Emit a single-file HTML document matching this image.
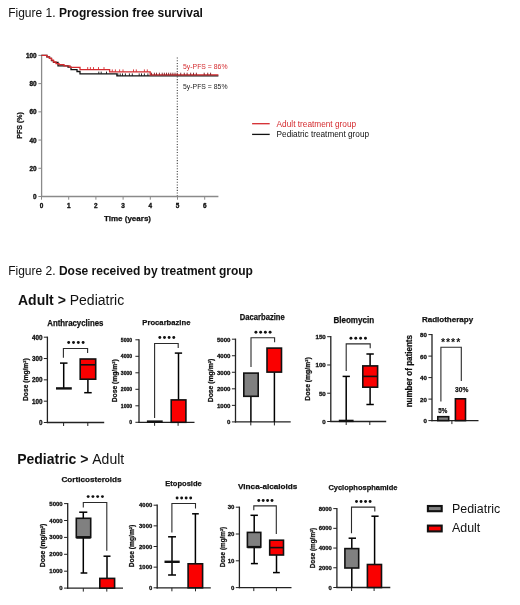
<!DOCTYPE html>
<html><head><meta charset="utf-8"><style>
html,body{margin:0;padding:0;background:#fff;width:520px;height:605px;overflow:hidden;position:relative}
text{font-family:"Liberation Sans", sans-serif}
</style></head><body>
<svg width="520" height="605" viewBox="0 0 520 605" style="position:absolute;left:0;top:0;filter:blur(0.4px)">
<g font-family='"Liberation Sans", sans-serif'>
<text x="8.2" y="17" font-size="12" fill="#111"><tspan>Figure 1. </tspan><tspan font-weight="700">Progression free survival</tspan></text>
<text x="8.2" y="274.5" font-size="12" fill="#111"><tspan>Figure 2. </tspan><tspan font-weight="700">Dose received by treatment group</tspan></text>
<text x="18" y="304.5" font-size="14" fill="#111"><tspan font-weight="700">Adult &gt; </tspan><tspan>Pediatric</tspan></text>
<text x="17.2" y="463.8" font-size="14" fill="#111"><tspan font-weight="700">Pediatric &gt; </tspan><tspan>Adult</tspan></text>
<line x1="41.60" y1="54.80" x2="41.60" y2="197.10" stroke="#8a8a8a" stroke-width="1.3"/>
<line x1="41.00" y1="196.50" x2="218.40" y2="196.50" stroke="#8a8a8a" stroke-width="1.3"/>
<line x1="38.40" y1="196.50" x2="41.60" y2="196.50" stroke="#8a8a8a" stroke-width="1.0"/>
<text x="36.60" y="196.50" font-size="6.4" font-weight="700" text-anchor="end" fill="#111" dominant-baseline="central" stroke="#111" stroke-width="0.35">0</text>
<line x1="38.40" y1="168.28" x2="41.60" y2="168.28" stroke="#8a8a8a" stroke-width="1.0"/>
<text x="36.60" y="168.28" font-size="6.4" font-weight="700" text-anchor="end" fill="#111" dominant-baseline="central" stroke="#111" stroke-width="0.35">20</text>
<line x1="38.40" y1="140.06" x2="41.60" y2="140.06" stroke="#8a8a8a" stroke-width="1.0"/>
<text x="36.60" y="140.06" font-size="6.4" font-weight="700" text-anchor="end" fill="#111" dominant-baseline="central" stroke="#111" stroke-width="0.35">40</text>
<line x1="38.40" y1="111.84" x2="41.60" y2="111.84" stroke="#8a8a8a" stroke-width="1.0"/>
<text x="36.60" y="111.84" font-size="6.4" font-weight="700" text-anchor="end" fill="#111" dominant-baseline="central" stroke="#111" stroke-width="0.35">60</text>
<line x1="38.40" y1="83.62" x2="41.60" y2="83.62" stroke="#8a8a8a" stroke-width="1.0"/>
<text x="36.60" y="83.62" font-size="6.4" font-weight="700" text-anchor="end" fill="#111" dominant-baseline="central" stroke="#111" stroke-width="0.35">80</text>
<line x1="38.40" y1="55.40" x2="41.60" y2="55.40" stroke="#8a8a8a" stroke-width="1.0"/>
<text x="36.60" y="55.40" font-size="6.4" font-weight="700" text-anchor="end" fill="#111" dominant-baseline="central" stroke="#111" stroke-width="0.35">100</text>
<line x1="41.50" y1="196.50" x2="41.50" y2="199.70" stroke="#8a8a8a" stroke-width="1.0"/>
<text x="41.50" y="205.20" font-size="6.4" font-weight="700" text-anchor="middle" fill="#111" dominant-baseline="central" stroke="#111" stroke-width="0.35">0</text>
<line x1="68.70" y1="196.50" x2="68.70" y2="199.70" stroke="#8a8a8a" stroke-width="1.0"/>
<text x="68.70" y="205.20" font-size="6.4" font-weight="700" text-anchor="middle" fill="#111" dominant-baseline="central" stroke="#111" stroke-width="0.35">1</text>
<line x1="95.90" y1="196.50" x2="95.90" y2="199.70" stroke="#8a8a8a" stroke-width="1.0"/>
<text x="95.90" y="205.20" font-size="6.4" font-weight="700" text-anchor="middle" fill="#111" dominant-baseline="central" stroke="#111" stroke-width="0.35">2</text>
<line x1="123.10" y1="196.50" x2="123.10" y2="199.70" stroke="#8a8a8a" stroke-width="1.0"/>
<text x="123.10" y="205.20" font-size="6.4" font-weight="700" text-anchor="middle" fill="#111" dominant-baseline="central" stroke="#111" stroke-width="0.35">3</text>
<line x1="150.30" y1="196.50" x2="150.30" y2="199.70" stroke="#8a8a8a" stroke-width="1.0"/>
<text x="150.30" y="205.20" font-size="6.4" font-weight="700" text-anchor="middle" fill="#111" dominant-baseline="central" stroke="#111" stroke-width="0.35">4</text>
<line x1="177.50" y1="196.50" x2="177.50" y2="199.70" stroke="#8a8a8a" stroke-width="1.0"/>
<text x="177.50" y="205.20" font-size="6.4" font-weight="700" text-anchor="middle" fill="#111" dominant-baseline="central" stroke="#111" stroke-width="0.35">5</text>
<line x1="204.70" y1="196.50" x2="204.70" y2="199.70" stroke="#8a8a8a" stroke-width="1.0"/>
<text x="204.70" y="205.20" font-size="6.4" font-weight="700" text-anchor="middle" fill="#111" dominant-baseline="central" stroke="#111" stroke-width="0.35">6</text>
<text x="127.50" y="218.50" font-size="8" font-weight="700" text-anchor="middle" fill="#111" dominant-baseline="central" stroke="#111" stroke-width="0.25">Time (years)</text>
<text x="19.10" y="125.40" font-size="7" font-weight="700" text-anchor="middle" fill="#111" dominant-baseline="central" transform="rotate(-90 19.10 125.40)" stroke="#111" stroke-width="0.25">PFS (%)</text>
<line x1="177.30" y1="57.50" x2="177.30" y2="196.00" stroke="#444" stroke-width="1.1" stroke-dasharray="1.1,1.6"/>
<polyline points="41.5,55.4 46.9,55.4 46.9,56.8 49.5,56.8 49.5,58.4 51.5,58.4 51.5,60.6 53.5,60.6 53.5,62.4 58.0,62.4 58.0,65.8 68.0,65.8 68.0,67.2 71.0,67.2 71.0,69.7 77.0,69.7 77.0,71.5 80.0,71.5 80.0,73.8 116.9,73.8 116.9,75.8 218.4,75.8" fill="none" stroke="#111" stroke-width="1.3"/>
<line x1="98.80" y1="73.80" x2="98.80" y2="71.60" stroke="#111" stroke-width="0.9"/>
<line x1="101.20" y1="73.80" x2="101.20" y2="71.60" stroke="#111" stroke-width="0.9"/>
<line x1="106.50" y1="73.80" x2="106.50" y2="71.60" stroke="#111" stroke-width="0.9"/>
<line x1="117.90" y1="75.80" x2="117.90" y2="73.40" stroke="#111" stroke-width="0.9"/>
<line x1="120.20" y1="75.80" x2="120.20" y2="73.40" stroke="#111" stroke-width="0.9"/>
<line x1="122.50" y1="75.80" x2="122.50" y2="73.40" stroke="#111" stroke-width="0.9"/>
<line x1="125.40" y1="75.80" x2="125.40" y2="73.40" stroke="#111" stroke-width="0.9"/>
<line x1="129.40" y1="75.80" x2="129.40" y2="73.40" stroke="#111" stroke-width="0.9"/>
<line x1="132.30" y1="75.80" x2="132.30" y2="73.40" stroke="#111" stroke-width="0.9"/>
<line x1="139.20" y1="75.80" x2="139.20" y2="73.40" stroke="#111" stroke-width="0.9"/>
<line x1="141.50" y1="75.80" x2="141.50" y2="73.40" stroke="#111" stroke-width="0.9"/>
<line x1="144.40" y1="75.80" x2="144.40" y2="73.40" stroke="#111" stroke-width="0.9"/>
<line x1="147.90" y1="75.80" x2="147.90" y2="73.40" stroke="#111" stroke-width="0.9"/>
<polyline points="41.5,55.4 46.9,55.4 46.9,56.8 49.5,56.8 49.5,58.4 51.5,58.4 51.5,60.2 53.5,60.2 53.5,62.0 56.0,62.0 56.0,63.6 59.0,63.6 59.0,64.6 64.0,64.6 64.0,65.8 70.0,65.8 70.0,67.3 80.0,67.3 80.0,69.6 109.6,69.6 109.6,71.8 150.2,71.8 150.2,74.9 218.4,74.9" fill="none" stroke="#d42a2e" stroke-width="1.3"/>
<line x1="87.70" y1="69.60" x2="87.70" y2="67.10" stroke="#d42a2e" stroke-width="0.9"/>
<line x1="90.40" y1="69.60" x2="90.40" y2="67.10" stroke="#d42a2e" stroke-width="0.9"/>
<line x1="93.50" y1="69.60" x2="93.50" y2="67.10" stroke="#d42a2e" stroke-width="0.9"/>
<line x1="98.50" y1="69.60" x2="98.50" y2="67.10" stroke="#d42a2e" stroke-width="0.9"/>
<line x1="104.00" y1="69.60" x2="104.00" y2="67.10" stroke="#d42a2e" stroke-width="0.9"/>
<line x1="112.30" y1="71.80" x2="112.30" y2="69.40" stroke="#d42a2e" stroke-width="0.9"/>
<line x1="115.40" y1="71.80" x2="115.40" y2="69.40" stroke="#d42a2e" stroke-width="0.9"/>
<line x1="119.60" y1="71.80" x2="119.60" y2="69.40" stroke="#d42a2e" stroke-width="0.9"/>
<line x1="123.00" y1="71.80" x2="123.00" y2="69.40" stroke="#d42a2e" stroke-width="0.9"/>
<line x1="133.50" y1="71.80" x2="133.50" y2="69.40" stroke="#d42a2e" stroke-width="0.9"/>
<line x1="136.30" y1="71.80" x2="136.30" y2="69.40" stroke="#d42a2e" stroke-width="0.9"/>
<line x1="144.40" y1="71.80" x2="144.40" y2="69.40" stroke="#d42a2e" stroke-width="0.9"/>
<line x1="147.30" y1="71.80" x2="147.30" y2="69.40" stroke="#d42a2e" stroke-width="0.9"/>
<line x1="151.56" y1="74.90" x2="151.56" y2="72.70" stroke="#7a1518" stroke-width="0.9"/>
<line x1="154.40" y1="74.90" x2="154.40" y2="72.70" stroke="#7a1518" stroke-width="0.9"/>
<line x1="156.53" y1="74.90" x2="156.53" y2="72.70" stroke="#7a1518" stroke-width="0.9"/>
<line x1="159.38" y1="74.90" x2="159.38" y2="72.70" stroke="#7a1518" stroke-width="0.9"/>
<line x1="162.22" y1="74.90" x2="162.22" y2="72.70" stroke="#7a1518" stroke-width="0.9"/>
<line x1="164.36" y1="74.90" x2="164.36" y2="72.70" stroke="#7a1518" stroke-width="0.9"/>
<line x1="166.49" y1="74.90" x2="166.49" y2="72.70" stroke="#7a1518" stroke-width="0.9"/>
<line x1="168.63" y1="74.90" x2="168.63" y2="72.70" stroke="#7a1518" stroke-width="0.9"/>
<line x1="170.76" y1="74.90" x2="170.76" y2="72.70" stroke="#7a1518" stroke-width="0.9"/>
<line x1="172.89" y1="74.90" x2="172.89" y2="72.70" stroke="#7a1518" stroke-width="0.9"/>
<line x1="175.03" y1="74.90" x2="175.03" y2="72.70" stroke="#7a1518" stroke-width="0.9"/>
<line x1="177.16" y1="74.90" x2="177.16" y2="72.70" stroke="#7a1518" stroke-width="0.9"/>
<line x1="180.72" y1="74.90" x2="180.72" y2="72.70" stroke="#7a1518" stroke-width="0.9"/>
<line x1="184.27" y1="74.90" x2="184.27" y2="72.70" stroke="#7a1518" stroke-width="0.9"/>
<line x1="187.12" y1="74.90" x2="187.12" y2="72.70" stroke="#7a1518" stroke-width="0.9"/>
<line x1="190.67" y1="74.90" x2="190.67" y2="72.70" stroke="#7a1518" stroke-width="0.9"/>
<line x1="193.52" y1="74.90" x2="193.52" y2="72.70" stroke="#7a1518" stroke-width="0.9"/>
<line x1="196.36" y1="74.90" x2="196.36" y2="72.70" stroke="#7a1518" stroke-width="0.9"/>
<line x1="204.19" y1="74.90" x2="204.19" y2="72.70" stroke="#7a1518" stroke-width="0.9"/>
<line x1="207.74" y1="74.90" x2="207.74" y2="72.70" stroke="#7a1518" stroke-width="0.9"/>
<line x1="210.59" y1="74.90" x2="210.59" y2="72.70" stroke="#7a1518" stroke-width="0.9"/>
<text x="183.00" y="66.70" font-size="7" font-weight="400" text-anchor="start" fill="#d42a2e" dominant-baseline="central" textLength="44.50" lengthAdjust="spacingAndGlyphs">5y-PFS = 86%</text>
<text x="183.00" y="86.50" font-size="7" font-weight="400" text-anchor="start" fill="#222" dominant-baseline="central" textLength="44.50" lengthAdjust="spacingAndGlyphs">5y-PFS = 85%</text>
<line x1="252.10" y1="123.70" x2="269.70" y2="123.70" stroke="#d42a2e" stroke-width="1.3"/>
<line x1="252.10" y1="134.40" x2="269.70" y2="134.40" stroke="#111" stroke-width="1.3"/>
<text x="276.60" y="123.70" font-size="8.3" font-weight="400" text-anchor="start" fill="#d42a2e" dominant-baseline="central" textLength="79.50" lengthAdjust="spacingAndGlyphs">Adult treatment group</text>
<text x="276.60" y="134.40" font-size="8.3" font-weight="400" text-anchor="start" fill="#111" dominant-baseline="central" textLength="92.50" lengthAdjust="spacingAndGlyphs">Pediatric treatment group</text>
<text x="75.35" y="322.60" font-size="8.7" font-weight="700" text-anchor="middle" fill="#111" dominant-baseline="central" textLength="56.20" lengthAdjust="spacingAndGlyphs" stroke="#111" stroke-width="0.25">Anthracyclines</text>
<text x="25.70" y="379.60" font-size="7" font-weight="700" text-anchor="middle" fill="#111" dominant-baseline="central" transform="rotate(-90 25.70 379.60)" textLength="42.80" lengthAdjust="spacingAndGlyphs" stroke="#111" stroke-width="0.25">Dose (mg/m²)</text>
<line x1="47.40" y1="336.60" x2="47.40" y2="423.10" stroke="#222" stroke-width="1.3"/>
<line x1="43.80" y1="422.50" x2="47.40" y2="422.50" stroke="#222" stroke-width="1.0"/>
<text x="42.40" y="422.50" font-size="6.3" font-weight="700" text-anchor="end" fill="#111" dominant-baseline="central" stroke="#111" stroke-width="0.3">0</text>
<line x1="43.80" y1="401.18" x2="47.40" y2="401.18" stroke="#222" stroke-width="1.0"/>
<text x="42.40" y="401.18" font-size="6.3" font-weight="700" text-anchor="end" fill="#111" dominant-baseline="central" stroke="#111" stroke-width="0.3">100</text>
<line x1="43.80" y1="379.85" x2="47.40" y2="379.85" stroke="#222" stroke-width="1.0"/>
<text x="42.40" y="379.85" font-size="6.3" font-weight="700" text-anchor="end" fill="#111" dominant-baseline="central" stroke="#111" stroke-width="0.3">200</text>
<line x1="43.80" y1="358.52" x2="47.40" y2="358.52" stroke="#222" stroke-width="1.0"/>
<text x="42.40" y="358.52" font-size="6.3" font-weight="700" text-anchor="end" fill="#111" dominant-baseline="central" stroke="#111" stroke-width="0.3">300</text>
<line x1="43.80" y1="337.20" x2="47.40" y2="337.20" stroke="#222" stroke-width="1.0"/>
<text x="42.40" y="337.20" font-size="6.3" font-weight="700" text-anchor="end" fill="#111" dominant-baseline="central" stroke="#111" stroke-width="0.3">400</text>
<line x1="46.80" y1="422.50" x2="104.20" y2="422.50" stroke="#222" stroke-width="1.3"/>
<line x1="63.60" y1="422.50" x2="63.60" y2="426.00" stroke="#222" stroke-width="1.0"/>
<line x1="87.80" y1="422.50" x2="87.80" y2="426.00" stroke="#222" stroke-width="1.0"/>
<line x1="63.70" y1="388.40" x2="63.70" y2="363.10" stroke="#000" stroke-width="1.5"/>
<line x1="60.00" y1="363.10" x2="67.50" y2="363.10" stroke="#000" stroke-width="1.5"/>
<line x1="56.00" y1="388.40" x2="71.80" y2="388.40" stroke="#111" stroke-width="2.4"/>
<line x1="87.90" y1="379.20" x2="87.90" y2="392.70" stroke="#000" stroke-width="1.5"/>
<line x1="84.20" y1="392.70" x2="91.70" y2="392.70" stroke="#000" stroke-width="1.5"/>
<rect x="80.20" y="359.00" width="15.50" height="20.20" fill="#fa0000" stroke="#111" stroke-width="1.6"/>
<line x1="80.20" y1="364.80" x2="95.70" y2="364.80" stroke="#111" stroke-width="1.6"/>
<polyline points="63.4,357.7 63.4,348.5 87.6,348.5 87.6,353.1" fill="none" stroke="#2a2a2a" stroke-width="1.1"/>
<circle cx="68.69" cy="342.45" r="1.45" fill="#111"/>
<circle cx="73.50" cy="342.45" r="1.45" fill="#111"/>
<circle cx="78.31" cy="342.45" r="1.45" fill="#111"/>
<circle cx="83.12" cy="342.45" r="1.45" fill="#111"/>
<text x="166.40" y="322.40" font-size="8" font-weight="700" text-anchor="middle" fill="#111" dominant-baseline="central" textLength="48.10" lengthAdjust="spacingAndGlyphs" stroke="#111" stroke-width="0.25">Procarbazine</text>
<text x="114.10" y="380.80" font-size="7" font-weight="700" text-anchor="middle" fill="#111" dominant-baseline="central" transform="rotate(-90 114.10 380.80)" textLength="43.00" lengthAdjust="spacingAndGlyphs" stroke="#111" stroke-width="0.25">Dose (mg/m²)</text>
<line x1="139.00" y1="339.20" x2="139.00" y2="422.90" stroke="#222" stroke-width="1.3"/>
<line x1="135.40" y1="422.30" x2="139.00" y2="422.30" stroke="#222" stroke-width="1.0"/>
<text x="132.20" y="422.30" font-size="5.1" font-weight="700" text-anchor="end" fill="#111" dominant-baseline="central" stroke="#111" stroke-width="0.3">0</text>
<line x1="135.40" y1="405.80" x2="139.00" y2="405.80" stroke="#222" stroke-width="1.0"/>
<text x="132.20" y="405.80" font-size="5.1" font-weight="700" text-anchor="end" fill="#111" dominant-baseline="central" stroke="#111" stroke-width="0.3">1000</text>
<line x1="135.40" y1="389.30" x2="139.00" y2="389.30" stroke="#222" stroke-width="1.0"/>
<text x="132.20" y="389.30" font-size="5.1" font-weight="700" text-anchor="end" fill="#111" dominant-baseline="central" stroke="#111" stroke-width="0.3">2000</text>
<line x1="135.40" y1="372.80" x2="139.00" y2="372.80" stroke="#222" stroke-width="1.0"/>
<text x="132.20" y="372.80" font-size="5.1" font-weight="700" text-anchor="end" fill="#111" dominant-baseline="central" stroke="#111" stroke-width="0.3">3000</text>
<line x1="135.40" y1="356.30" x2="139.00" y2="356.30" stroke="#222" stroke-width="1.0"/>
<text x="132.20" y="356.30" font-size="5.1" font-weight="700" text-anchor="end" fill="#111" dominant-baseline="central" stroke="#111" stroke-width="0.3">4000</text>
<line x1="135.40" y1="339.80" x2="139.00" y2="339.80" stroke="#222" stroke-width="1.0"/>
<text x="132.20" y="339.80" font-size="5.1" font-weight="700" text-anchor="end" fill="#111" dominant-baseline="central" stroke="#111" stroke-width="0.3">5000</text>
<line x1="138.40" y1="422.30" x2="194.50" y2="422.30" stroke="#222" stroke-width="1.3"/>
<line x1="154.60" y1="422.30" x2="154.60" y2="425.80" stroke="#222" stroke-width="1.0"/>
<line x1="178.10" y1="422.30" x2="178.10" y2="425.80" stroke="#222" stroke-width="1.0"/>
<line x1="146.90" y1="421.60" x2="162.70" y2="421.60" stroke="#111" stroke-width="2.4"/>
<line x1="178.50" y1="399.90" x2="178.50" y2="353.10" stroke="#000" stroke-width="1.5"/>
<line x1="174.80" y1="353.10" x2="182.10" y2="353.10" stroke="#000" stroke-width="1.5"/>
<rect x="171.20" y="399.90" width="14.70" height="22.40" fill="#fa0000" stroke="#111" stroke-width="1.6"/>
<polyline points="154.6,417.9 154.6,343.5 178.2,343.5 178.2,347.9" fill="none" stroke="#2a2a2a" stroke-width="1.1"/>
<circle cx="159.83" cy="337.45" r="1.45" fill="#111"/>
<circle cx="164.48" cy="337.45" r="1.45" fill="#111"/>
<circle cx="169.12" cy="337.45" r="1.45" fill="#111"/>
<circle cx="173.78" cy="337.45" r="1.45" fill="#111"/>
<text x="262.30" y="317.20" font-size="8.2" font-weight="700" text-anchor="middle" fill="#111" dominant-baseline="central" textLength="44.90" lengthAdjust="spacingAndGlyphs" stroke="#111" stroke-width="0.25">Dacarbazine</text>
<text x="210.20" y="380.50" font-size="7" font-weight="700" text-anchor="middle" fill="#111" dominant-baseline="central" transform="rotate(-90 210.20 380.50)" textLength="43.50" lengthAdjust="spacingAndGlyphs" stroke="#111" stroke-width="0.25">Dose (mg/m²)</text>
<line x1="235.50" y1="338.60" x2="235.50" y2="422.50" stroke="#222" stroke-width="1.3"/>
<line x1="231.90" y1="421.90" x2="235.50" y2="421.90" stroke="#222" stroke-width="1.0"/>
<text x="230.50" y="421.90" font-size="6.1" font-weight="700" text-anchor="end" fill="#111" dominant-baseline="central" stroke="#111" stroke-width="0.3">0</text>
<line x1="231.90" y1="405.36" x2="235.50" y2="405.36" stroke="#222" stroke-width="1.0"/>
<text x="230.50" y="405.36" font-size="6.1" font-weight="700" text-anchor="end" fill="#111" dominant-baseline="central" stroke="#111" stroke-width="0.3">1000</text>
<line x1="231.90" y1="388.82" x2="235.50" y2="388.82" stroke="#222" stroke-width="1.0"/>
<text x="230.50" y="388.82" font-size="6.1" font-weight="700" text-anchor="end" fill="#111" dominant-baseline="central" stroke="#111" stroke-width="0.3">2000</text>
<line x1="231.90" y1="372.28" x2="235.50" y2="372.28" stroke="#222" stroke-width="1.0"/>
<text x="230.50" y="372.28" font-size="6.1" font-weight="700" text-anchor="end" fill="#111" dominant-baseline="central" stroke="#111" stroke-width="0.3">3000</text>
<line x1="231.90" y1="355.74" x2="235.50" y2="355.74" stroke="#222" stroke-width="1.0"/>
<text x="230.50" y="355.74" font-size="6.1" font-weight="700" text-anchor="end" fill="#111" dominant-baseline="central" stroke="#111" stroke-width="0.3">4000</text>
<line x1="231.90" y1="339.20" x2="235.50" y2="339.20" stroke="#222" stroke-width="1.0"/>
<text x="230.50" y="339.20" font-size="6.1" font-weight="700" text-anchor="end" fill="#111" dominant-baseline="central" stroke="#111" stroke-width="0.3">5000</text>
<line x1="234.90" y1="421.90" x2="290.70" y2="421.90" stroke="#222" stroke-width="1.3"/>
<line x1="250.80" y1="421.90" x2="250.80" y2="425.40" stroke="#222" stroke-width="1.0"/>
<line x1="274.40" y1="421.90" x2="274.40" y2="425.40" stroke="#222" stroke-width="1.0"/>
<line x1="250.90" y1="396.30" x2="250.90" y2="421.90" stroke="#000" stroke-width="1.5"/>
<rect x="243.80" y="373.10" width="14.40" height="23.20" fill="#808080" stroke="#111" stroke-width="1.6"/>
<line x1="274.40" y1="372.10" x2="274.40" y2="421.90" stroke="#000" stroke-width="1.5"/>
<rect x="267.00" y="348.10" width="14.50" height="24.00" fill="#fa0000" stroke="#111" stroke-width="1.6"/>
<polyline points="251,367 251,337.7 274.6,337.7 274.6,342.3" fill="none" stroke="#2a2a2a" stroke-width="1.1"/>
<circle cx="255.91" cy="332.20" r="1.45" fill="#111"/>
<circle cx="260.63" cy="332.20" r="1.45" fill="#111"/>
<circle cx="265.37" cy="332.20" r="1.45" fill="#111"/>
<circle cx="270.10" cy="332.20" r="1.45" fill="#111"/>
<text x="353.80" y="320.00" font-size="8.5" font-weight="700" text-anchor="middle" fill="#111" dominant-baseline="central" textLength="40.80" lengthAdjust="spacingAndGlyphs" stroke="#111" stroke-width="0.25">Bleomycin</text>
<text x="307.70" y="379.00" font-size="7" font-weight="700" text-anchor="middle" fill="#111" dominant-baseline="central" transform="rotate(-90 307.70 379.00)" textLength="43.40" lengthAdjust="spacingAndGlyphs" stroke="#111" stroke-width="0.25">Dose (mg/m²)</text>
<line x1="330.80" y1="336.10" x2="330.80" y2="422.10" stroke="#222" stroke-width="1.3"/>
<line x1="327.20" y1="421.50" x2="330.80" y2="421.50" stroke="#222" stroke-width="1.0"/>
<text x="325.80" y="421.50" font-size="6.2" font-weight="700" text-anchor="end" fill="#111" dominant-baseline="central" stroke="#111" stroke-width="0.3">0</text>
<line x1="327.20" y1="393.23" x2="330.80" y2="393.23" stroke="#222" stroke-width="1.0"/>
<text x="325.80" y="393.23" font-size="6.2" font-weight="700" text-anchor="end" fill="#111" dominant-baseline="central" stroke="#111" stroke-width="0.3">50</text>
<line x1="327.20" y1="364.97" x2="330.80" y2="364.97" stroke="#222" stroke-width="1.0"/>
<text x="325.80" y="364.97" font-size="6.2" font-weight="700" text-anchor="end" fill="#111" dominant-baseline="central" stroke="#111" stroke-width="0.3">100</text>
<line x1="327.20" y1="336.70" x2="330.80" y2="336.70" stroke="#222" stroke-width="1.0"/>
<text x="325.80" y="336.70" font-size="6.2" font-weight="700" text-anchor="end" fill="#111" dominant-baseline="central" stroke="#111" stroke-width="0.3">150</text>
<line x1="330.20" y1="421.50" x2="386.20" y2="421.50" stroke="#222" stroke-width="1.3"/>
<line x1="346.20" y1="421.50" x2="346.20" y2="425.00" stroke="#222" stroke-width="1.0"/>
<line x1="369.80" y1="421.50" x2="369.80" y2="425.00" stroke="#222" stroke-width="1.0"/>
<line x1="346.20" y1="420.90" x2="346.20" y2="376.40" stroke="#000" stroke-width="1.5"/>
<line x1="342.60" y1="376.40" x2="349.90" y2="376.40" stroke="#000" stroke-width="1.5"/>
<line x1="338.80" y1="420.90" x2="353.60" y2="420.90" stroke="#111" stroke-width="2.4"/>
<line x1="370.10" y1="387.20" x2="370.10" y2="404.50" stroke="#000" stroke-width="1.5"/>
<line x1="366.40" y1="404.50" x2="373.80" y2="404.50" stroke="#000" stroke-width="1.5"/>
<line x1="370.10" y1="365.90" x2="370.10" y2="354.00" stroke="#000" stroke-width="1.5"/>
<line x1="366.40" y1="354.00" x2="373.80" y2="354.00" stroke="#000" stroke-width="1.5"/>
<rect x="362.80" y="365.90" width="14.80" height="21.30" fill="#fa0000" stroke="#111" stroke-width="1.6"/>
<line x1="362.80" y1="376.40" x2="377.60" y2="376.40" stroke="#111" stroke-width="1.6"/>
<polyline points="346.2,371 346.2,343.9 370.2,343.9 370.2,348.2" fill="none" stroke="#2a2a2a" stroke-width="1.1"/>
<circle cx="350.94" cy="338.20" r="1.45" fill="#111"/>
<circle cx="355.78" cy="338.20" r="1.45" fill="#111"/>
<circle cx="360.62" cy="338.20" r="1.45" fill="#111"/>
<circle cx="365.46" cy="338.20" r="1.45" fill="#111"/>
<text x="447.50" y="319.10" font-size="8" font-weight="700" text-anchor="middle" fill="#111" dominant-baseline="central" textLength="51.20" lengthAdjust="spacingAndGlyphs" stroke="#111" stroke-width="0.25">Radiotherapy</text>
<text x="409.40" y="371.20" font-size="8.5" font-weight="700" text-anchor="middle" fill="#111" dominant-baseline="central" transform="rotate(-90 409.40 371.20)" textLength="72.30" lengthAdjust="spacingAndGlyphs" stroke="#111" stroke-width="0.25">number of patients</text>
<line x1="432.00" y1="334.00" x2="432.00" y2="421.20" stroke="#222" stroke-width="1.3"/>
<line x1="428.40" y1="420.60" x2="432.00" y2="420.60" stroke="#222" stroke-width="1.0"/>
<text x="427.00" y="420.60" font-size="6.2" font-weight="700" text-anchor="end" fill="#111" dominant-baseline="central" stroke="#111" stroke-width="0.3">0</text>
<line x1="428.40" y1="399.10" x2="432.00" y2="399.10" stroke="#222" stroke-width="1.0"/>
<text x="427.00" y="399.10" font-size="6.2" font-weight="700" text-anchor="end" fill="#111" dominant-baseline="central" stroke="#111" stroke-width="0.3">20</text>
<line x1="428.40" y1="377.60" x2="432.00" y2="377.60" stroke="#222" stroke-width="1.0"/>
<text x="427.00" y="377.60" font-size="6.2" font-weight="700" text-anchor="end" fill="#111" dominant-baseline="central" stroke="#111" stroke-width="0.3">40</text>
<line x1="428.40" y1="356.10" x2="432.00" y2="356.10" stroke="#222" stroke-width="1.0"/>
<text x="427.00" y="356.10" font-size="6.2" font-weight="700" text-anchor="end" fill="#111" dominant-baseline="central" stroke="#111" stroke-width="0.3">60</text>
<line x1="428.40" y1="334.60" x2="432.00" y2="334.60" stroke="#222" stroke-width="1.0"/>
<text x="427.00" y="334.60" font-size="6.2" font-weight="700" text-anchor="end" fill="#111" dominant-baseline="central" stroke="#111" stroke-width="0.3">80</text>
<line x1="431.40" y1="420.60" x2="478.50" y2="420.60" stroke="#222" stroke-width="1.3"/>
<line x1="451.90" y1="420.60" x2="451.90" y2="424.10" stroke="#222" stroke-width="1.0"/>
<rect x="437.80" y="416.70" width="10.90" height="3.90" fill="#808080" stroke="#111" stroke-width="1.6"/>
<rect x="455.40" y="398.80" width="10.10" height="21.80" fill="#fa0000" stroke="#111" stroke-width="1.6"/>
<polyline points="440.9,401.5 440.9,347.2 461.3,347.2 461.3,380.9" fill="none" stroke="#2a2a2a" stroke-width="1.1"/>
<text x="442.95" y="346.20" font-size="10.5" font-weight="700" text-anchor="middle" fill="#111">*</text>
<text x="448.05" y="346.20" font-size="10.5" font-weight="700" text-anchor="middle" fill="#111">*</text>
<text x="453.15" y="346.20" font-size="10.5" font-weight="700" text-anchor="middle" fill="#111">*</text>
<text x="458.25" y="346.20" font-size="10.5" font-weight="700" text-anchor="middle" fill="#111">*</text>
<text x="91.50" y="479.80" font-size="8" font-weight="700" text-anchor="middle" fill="#111" dominant-baseline="central" textLength="60.00" lengthAdjust="spacingAndGlyphs" stroke="#111" stroke-width="0.25">Corticosteroids</text>
<text x="42.10" y="545.50" font-size="7" font-weight="700" text-anchor="middle" fill="#111" dominant-baseline="central" transform="rotate(-90 42.10 545.50)" textLength="43.50" lengthAdjust="spacingAndGlyphs" stroke="#111" stroke-width="0.25">Dose (mg/m²)</text>
<line x1="67.70" y1="503.00" x2="67.70" y2="588.70" stroke="#222" stroke-width="1.3"/>
<line x1="64.10" y1="588.10" x2="67.70" y2="588.10" stroke="#222" stroke-width="1.0"/>
<text x="62.70" y="588.10" font-size="6.0" font-weight="700" text-anchor="end" fill="#111" dominant-baseline="central" stroke="#111" stroke-width="0.3">0</text>
<line x1="64.10" y1="571.20" x2="67.70" y2="571.20" stroke="#222" stroke-width="1.0"/>
<text x="62.70" y="571.20" font-size="6.0" font-weight="700" text-anchor="end" fill="#111" dominant-baseline="central" stroke="#111" stroke-width="0.3">1000</text>
<line x1="64.10" y1="554.30" x2="67.70" y2="554.30" stroke="#222" stroke-width="1.0"/>
<text x="62.70" y="554.30" font-size="6.0" font-weight="700" text-anchor="end" fill="#111" dominant-baseline="central" stroke="#111" stroke-width="0.3">2000</text>
<line x1="64.10" y1="537.40" x2="67.70" y2="537.40" stroke="#222" stroke-width="1.0"/>
<text x="62.70" y="537.40" font-size="6.0" font-weight="700" text-anchor="end" fill="#111" dominant-baseline="central" stroke="#111" stroke-width="0.3">3000</text>
<line x1="64.10" y1="520.50" x2="67.70" y2="520.50" stroke="#222" stroke-width="1.0"/>
<text x="62.70" y="520.50" font-size="6.0" font-weight="700" text-anchor="end" fill="#111" dominant-baseline="central" stroke="#111" stroke-width="0.3">4000</text>
<line x1="64.10" y1="503.60" x2="67.70" y2="503.60" stroke="#222" stroke-width="1.0"/>
<text x="62.70" y="503.60" font-size="6.0" font-weight="700" text-anchor="end" fill="#111" dominant-baseline="central" stroke="#111" stroke-width="0.3">5000</text>
<line x1="67.10" y1="588.10" x2="123.00" y2="588.10" stroke="#222" stroke-width="1.3"/>
<line x1="83.30" y1="588.10" x2="83.30" y2="591.60" stroke="#222" stroke-width="1.0"/>
<line x1="106.80" y1="588.10" x2="106.80" y2="591.60" stroke="#222" stroke-width="1.0"/>
<line x1="83.30" y1="537.40" x2="83.30" y2="573.00" stroke="#000" stroke-width="1.5"/>
<line x1="80.60" y1="573.00" x2="87.30" y2="573.00" stroke="#000" stroke-width="1.5"/>
<line x1="83.30" y1="518.30" x2="83.30" y2="512.20" stroke="#000" stroke-width="1.5"/>
<line x1="79.20" y1="512.20" x2="87.30" y2="512.20" stroke="#000" stroke-width="1.5"/>
<rect x="76.30" y="518.30" width="14.40" height="19.10" fill="#808080" stroke="#111" stroke-width="1.6"/>
<line x1="76.30" y1="537.40" x2="90.70" y2="537.40" stroke="#111" stroke-width="2.6"/>
<line x1="107.00" y1="578.40" x2="107.00" y2="556.20" stroke="#000" stroke-width="1.5"/>
<line x1="103.50" y1="556.20" x2="110.50" y2="556.20" stroke="#000" stroke-width="1.5"/>
<rect x="99.80" y="578.40" width="14.80" height="9.70" fill="#fa0000" stroke="#111" stroke-width="1.6"/>
<polyline points="83.3,507.5 83.3,502.5 106.8,502.5 106.8,550.7" fill="none" stroke="#2a2a2a" stroke-width="1.1"/>
<circle cx="88.16" cy="496.60" r="1.45" fill="#111"/>
<circle cx="92.92" cy="496.60" r="1.45" fill="#111"/>
<circle cx="97.68" cy="496.60" r="1.45" fill="#111"/>
<circle cx="102.44" cy="496.60" r="1.45" fill="#111"/>
<text x="183.50" y="483.10" font-size="8" font-weight="700" text-anchor="middle" fill="#111" dominant-baseline="central" textLength="36.40" lengthAdjust="spacingAndGlyphs" stroke="#111" stroke-width="0.25">Etoposide</text>
<text x="131.70" y="546.00" font-size="7" font-weight="700" text-anchor="middle" fill="#111" dominant-baseline="central" transform="rotate(-90 131.70 546.00)" textLength="42.50" lengthAdjust="spacingAndGlyphs" stroke="#111" stroke-width="0.25">Dose (mg/m²)</text>
<line x1="157.20" y1="504.60" x2="157.20" y2="588.40" stroke="#222" stroke-width="1.3"/>
<line x1="153.60" y1="587.80" x2="157.20" y2="587.80" stroke="#222" stroke-width="1.0"/>
<text x="152.20" y="587.80" font-size="5.9" font-weight="700" text-anchor="end" fill="#111" dominant-baseline="central" stroke="#111" stroke-width="0.3">0</text>
<line x1="153.60" y1="567.15" x2="157.20" y2="567.15" stroke="#222" stroke-width="1.0"/>
<text x="152.20" y="567.15" font-size="5.9" font-weight="700" text-anchor="end" fill="#111" dominant-baseline="central" stroke="#111" stroke-width="0.3">1000</text>
<line x1="153.60" y1="546.50" x2="157.20" y2="546.50" stroke="#222" stroke-width="1.0"/>
<text x="152.20" y="546.50" font-size="5.9" font-weight="700" text-anchor="end" fill="#111" dominant-baseline="central" stroke="#111" stroke-width="0.3">2000</text>
<line x1="153.60" y1="525.85" x2="157.20" y2="525.85" stroke="#222" stroke-width="1.0"/>
<text x="152.20" y="525.85" font-size="5.9" font-weight="700" text-anchor="end" fill="#111" dominant-baseline="central" stroke="#111" stroke-width="0.3">3000</text>
<line x1="153.60" y1="505.20" x2="157.20" y2="505.20" stroke="#222" stroke-width="1.0"/>
<text x="152.20" y="505.20" font-size="5.9" font-weight="700" text-anchor="end" fill="#111" dominant-baseline="central" stroke="#111" stroke-width="0.3">4000</text>
<line x1="156.60" y1="587.80" x2="210.80" y2="587.80" stroke="#222" stroke-width="1.3"/>
<line x1="171.90" y1="587.80" x2="171.90" y2="591.30" stroke="#222" stroke-width="1.0"/>
<line x1="195.50" y1="587.80" x2="195.50" y2="591.30" stroke="#222" stroke-width="1.0"/>
<line x1="172.00" y1="561.80" x2="172.00" y2="575.00" stroke="#000" stroke-width="1.5"/>
<line x1="168.10" y1="575.00" x2="176.00" y2="575.00" stroke="#000" stroke-width="1.5"/>
<line x1="172.00" y1="561.80" x2="172.00" y2="536.80" stroke="#000" stroke-width="1.5"/>
<line x1="168.10" y1="536.80" x2="176.00" y2="536.80" stroke="#000" stroke-width="1.5"/>
<line x1="164.50" y1="561.80" x2="179.70" y2="561.80" stroke="#111" stroke-width="2.4"/>
<line x1="195.40" y1="563.80" x2="195.40" y2="513.80" stroke="#000" stroke-width="1.5"/>
<line x1="192.10" y1="513.80" x2="198.80" y2="513.80" stroke="#000" stroke-width="1.5"/>
<rect x="188.10" y="563.80" width="14.50" height="24.00" fill="#fa0000" stroke="#111" stroke-width="1.6"/>
<polyline points="171.9,532.4 171.9,503.5 195.5,503.5 195.5,508.6" fill="none" stroke="#2a2a2a" stroke-width="1.1"/>
<circle cx="177.11" cy="498.00" r="1.45" fill="#111"/>
<circle cx="181.64" cy="498.00" r="1.45" fill="#111"/>
<circle cx="186.16" cy="498.00" r="1.45" fill="#111"/>
<circle cx="190.69" cy="498.00" r="1.45" fill="#111"/>
<text x="267.70" y="486.20" font-size="8" font-weight="700" text-anchor="middle" fill="#111" dominant-baseline="central" textLength="59.30" lengthAdjust="spacingAndGlyphs" stroke="#111" stroke-width="0.25">Vinca-alcaloids</text>
<text x="222.10" y="547.10" font-size="7" font-weight="700" text-anchor="middle" fill="#111" dominant-baseline="central" transform="rotate(-90 222.10 547.10)" textLength="40.50" lengthAdjust="spacingAndGlyphs" stroke="#111" stroke-width="0.25">Dose (mg/m²)</text>
<line x1="239.40" y1="506.60" x2="239.40" y2="588.20" stroke="#222" stroke-width="1.3"/>
<line x1="235.80" y1="587.60" x2="239.40" y2="587.60" stroke="#222" stroke-width="1.0"/>
<text x="234.40" y="587.60" font-size="6.0" font-weight="700" text-anchor="end" fill="#111" dominant-baseline="central" stroke="#111" stroke-width="0.3">0</text>
<line x1="235.80" y1="560.80" x2="239.40" y2="560.80" stroke="#222" stroke-width="1.0"/>
<text x="234.40" y="560.80" font-size="6.0" font-weight="700" text-anchor="end" fill="#111" dominant-baseline="central" stroke="#111" stroke-width="0.3">10</text>
<line x1="235.80" y1="534.00" x2="239.40" y2="534.00" stroke="#222" stroke-width="1.0"/>
<text x="234.40" y="534.00" font-size="6.0" font-weight="700" text-anchor="end" fill="#111" dominant-baseline="central" stroke="#111" stroke-width="0.3">20</text>
<line x1="235.80" y1="507.20" x2="239.40" y2="507.20" stroke="#222" stroke-width="1.0"/>
<text x="234.40" y="507.20" font-size="6.0" font-weight="700" text-anchor="end" fill="#111" dominant-baseline="central" stroke="#111" stroke-width="0.3">30</text>
<line x1="238.80" y1="587.60" x2="291.50" y2="587.60" stroke="#222" stroke-width="1.3"/>
<line x1="253.80" y1="587.60" x2="253.80" y2="591.10" stroke="#222" stroke-width="1.0"/>
<line x1="276.40" y1="587.60" x2="276.40" y2="591.10" stroke="#222" stroke-width="1.0"/>
<line x1="254.20" y1="547.10" x2="254.20" y2="563.60" stroke="#000" stroke-width="1.5"/>
<line x1="250.90" y1="563.60" x2="257.90" y2="563.60" stroke="#000" stroke-width="1.5"/>
<line x1="254.20" y1="532.40" x2="254.20" y2="515.30" stroke="#000" stroke-width="1.5"/>
<line x1="250.50" y1="515.30" x2="257.90" y2="515.30" stroke="#000" stroke-width="1.5"/>
<rect x="247.40" y="532.40" width="13.40" height="14.70" fill="#808080" stroke="#111" stroke-width="1.6"/>
<line x1="247.40" y1="547.10" x2="260.80" y2="547.10" stroke="#111" stroke-width="2.4"/>
<line x1="276.50" y1="555.00" x2="276.50" y2="572.60" stroke="#000" stroke-width="1.5"/>
<line x1="273.00" y1="572.60" x2="279.80" y2="572.60" stroke="#000" stroke-width="1.5"/>
<rect x="269.70" y="540.20" width="13.80" height="14.80" fill="#fa0000" stroke="#111" stroke-width="1.6"/>
<line x1="269.70" y1="547.60" x2="283.50" y2="547.60" stroke="#111" stroke-width="1.6"/>
<polyline points="253.8,510.2 253.8,505.9 276.3,505.9 276.3,534.1" fill="none" stroke="#2a2a2a" stroke-width="1.1"/>
<circle cx="258.78" cy="500.45" r="1.45" fill="#111"/>
<circle cx="263.19" cy="500.45" r="1.45" fill="#111"/>
<circle cx="267.60" cy="500.45" r="1.45" fill="#111"/>
<circle cx="272.01" cy="500.45" r="1.45" fill="#111"/>
<text x="362.90" y="487.60" font-size="8" font-weight="700" text-anchor="middle" fill="#111" dominant-baseline="central" textLength="69.00" lengthAdjust="spacingAndGlyphs" stroke="#111" stroke-width="0.25">Cyclophosphamide</text>
<text x="312.40" y="548.00" font-size="7" font-weight="700" text-anchor="middle" fill="#111" dominant-baseline="central" transform="rotate(-90 312.40 548.00)" textLength="40.50" lengthAdjust="spacingAndGlyphs" stroke="#111" stroke-width="0.25">Dose (mg/m²)</text>
<line x1="336.90" y1="508.00" x2="336.90" y2="588.10" stroke="#222" stroke-width="1.3"/>
<line x1="333.30" y1="587.50" x2="336.90" y2="587.50" stroke="#222" stroke-width="1.0"/>
<text x="331.90" y="587.50" font-size="5.9" font-weight="700" text-anchor="end" fill="#111" dominant-baseline="central" stroke="#111" stroke-width="0.3">0</text>
<line x1="333.30" y1="567.77" x2="336.90" y2="567.77" stroke="#222" stroke-width="1.0"/>
<text x="331.90" y="567.77" font-size="5.9" font-weight="700" text-anchor="end" fill="#111" dominant-baseline="central" stroke="#111" stroke-width="0.3">2000</text>
<line x1="333.30" y1="548.05" x2="336.90" y2="548.05" stroke="#222" stroke-width="1.0"/>
<text x="331.90" y="548.05" font-size="5.9" font-weight="700" text-anchor="end" fill="#111" dominant-baseline="central" stroke="#111" stroke-width="0.3">4000</text>
<line x1="333.30" y1="528.33" x2="336.90" y2="528.33" stroke="#222" stroke-width="1.0"/>
<text x="331.90" y="528.33" font-size="5.9" font-weight="700" text-anchor="end" fill="#111" dominant-baseline="central" stroke="#111" stroke-width="0.3">6000</text>
<line x1="333.30" y1="508.60" x2="336.90" y2="508.60" stroke="#222" stroke-width="1.0"/>
<text x="331.90" y="508.60" font-size="5.9" font-weight="700" text-anchor="end" fill="#111" dominant-baseline="central" stroke="#111" stroke-width="0.3">8000</text>
<line x1="336.30" y1="587.50" x2="390.30" y2="587.50" stroke="#222" stroke-width="1.3"/>
<line x1="351.60" y1="587.50" x2="351.60" y2="591.00" stroke="#222" stroke-width="1.0"/>
<line x1="374.10" y1="587.50" x2="374.10" y2="591.00" stroke="#222" stroke-width="1.0"/>
<line x1="351.80" y1="568.00" x2="351.80" y2="587.50" stroke="#000" stroke-width="1.5"/>
<line x1="351.80" y1="548.60" x2="351.80" y2="538.20" stroke="#000" stroke-width="1.5"/>
<line x1="348.60" y1="538.20" x2="356.00" y2="538.20" stroke="#000" stroke-width="1.5"/>
<rect x="344.90" y="548.60" width="13.80" height="19.40" fill="#808080" stroke="#111" stroke-width="1.6"/>
<line x1="374.60" y1="564.50" x2="374.60" y2="516.20" stroke="#000" stroke-width="1.5"/>
<line x1="371.40" y1="516.20" x2="378.60" y2="516.20" stroke="#000" stroke-width="1.5"/>
<rect x="367.40" y="564.50" width="14.10" height="23.00" fill="#fa0000" stroke="#111" stroke-width="1.6"/>
<polyline points="351.5,533.3 351.5,507.1 374.8,507.1 374.8,511.5" fill="none" stroke="#2a2a2a" stroke-width="1.1"/>
<circle cx="356.50" cy="501.45" r="1.45" fill="#111"/>
<circle cx="361.04" cy="501.45" r="1.45" fill="#111"/>
<circle cx="365.56" cy="501.45" r="1.45" fill="#111"/>
<circle cx="370.10" cy="501.45" r="1.45" fill="#111"/>
<text x="442.80" y="410.30" font-size="8" font-weight="700" text-anchor="middle" fill="#111" dominant-baseline="central" textLength="9.00" lengthAdjust="spacingAndGlyphs" stroke="#111" stroke-width="0.25">5%</text>
<text x="461.70" y="389.70" font-size="8" font-weight="700" text-anchor="middle" fill="#111" dominant-baseline="central" textLength="13.30" lengthAdjust="spacingAndGlyphs" stroke="#111" stroke-width="0.25">30%</text>
<rect x="427.90" y="506.00" width="13.80" height="5.20" fill="#808080" stroke="#111" stroke-width="2.1"/>
<rect x="427.90" y="525.60" width="13.80" height="5.80" fill="#fa0000" stroke="#111" stroke-width="2.1"/>
<text x="452.00" y="508.70" font-size="12.4" font-weight="400" text-anchor="start" fill="#111" dominant-baseline="central">Pediatric</text>
<text x="452.00" y="527.90" font-size="12.4" font-weight="400" text-anchor="start" fill="#111" dominant-baseline="central">Adult</text>
</g></svg>
</body></html>
